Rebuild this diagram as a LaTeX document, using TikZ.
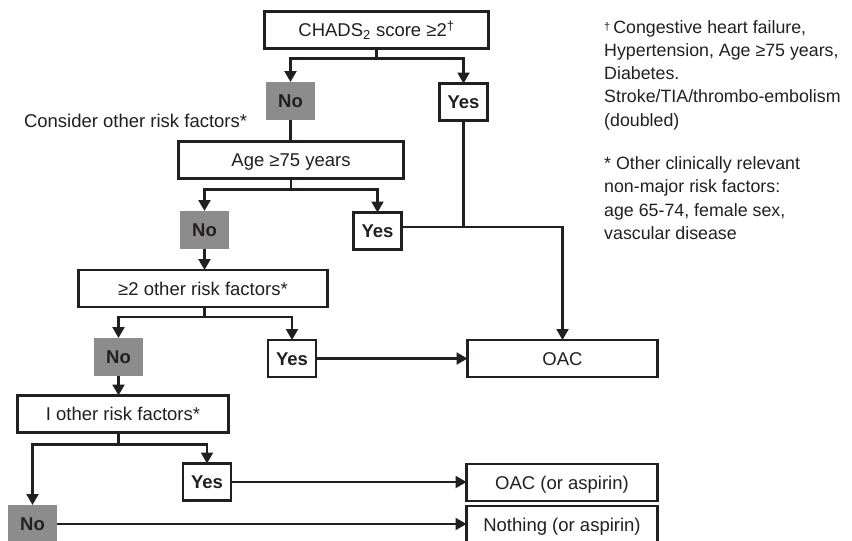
\documentclass[tikz,border=0pt]{standalone}
\usepackage{fontspec}
\setmainfont{Liberation Sans}
\usetikzlibrary{arrows.meta,calc}
\definecolor{ink}{RGB}{35,31,32}
\definecolor{nofill}{RGB}{140,140,140}
\begin{document}
\begin{tikzpicture}[x=1pt,y=-1pt,
  base/.style={inner sep=0pt, outer sep=0pt, text height=13.2pt, text depth=0pt,
    font=\fontsize{18.5}{22}\selectfont, text=ink},
  qbox/.style={base, draw=ink, line width=2.1pt, minimum height=37pt},
  nobox/.style={base, fill=nofill, minimum width=49pt, minimum height=38pt,
    font=\fontsize{18.5}{22}\selectfont\bfseries},
  yesbox/.style={qbox, minimum width=48pt, font=\fontsize{18.5}{22}\selectfont\bfseries},
  conn/.style={draw=ink, line width=2.1pt},
  arr/.style={conn, -{Triangle[length=11pt,width=12pt]}},
  note/.style={inner sep=0pt, anchor=west, align=left,
    font=\fontsize{17.8}{23.3}\selectfont, text=ink}
]
\fill[white] (0,0) rectangle (852,541);
\clip (0,0) rectangle (852,541);

% question boxes
\node[qbox, minimum width=224pt] (chads) at (376.5,30) {CHADS\textsubscript{2} score ≥2\textsuperscript{†}};
\node[qbox, minimum width=225pt] (age) at (291,160) {Age ≥75 years};
\node[qbox, minimum width=249pt] (two) at (203,288.5) {≥2 other risk factors*};
\node[qbox, minimum width=211pt] (ione) at (123,414) {I other risk factors*};

% answer boxes
\node[nobox] (no1) at (290.5,101) {No};
\node[yesbox] (yes1) at (463.5,102) {Yes};
\node[nobox] (no2) at (204.5,230) {No};
\node[yesbox] (yes2) at (377.5,231) {Yes};
\node[nobox] (no3) at (118.5,357) {No};
\node[yesbox] (yes3) at (292,358.5) {Yes};
\node[yesbox] (yes4) at (207,482) {Yes};
\node[nobox] (no4) at (32.5,524) {No};

% outcome boxes
\node[qbox, minimum width=190pt] (oac) at (562.5,358.5) {OAC};
\node[qbox, minimum width=191pt] (oaca) at (562,482.5) {OAC (or aspirin)};
\node[qbox, minimum width=191pt] (nothing) at (562,524.5) {Nothing (or aspirin)};

% side text
\node[base, anchor=west] (consider) at (24,121) {Consider other risk factors*};
\node[note] (n1) at (604,75) {{\fontsize{11}{11}\selectfont\raisebox{3pt}{†}}\,Congestive heart failure,\\Hypertension, Age ≥75 years,\\Diabetes.\\Stroke/TIA/thrombo-embolism\\(doubled)};
\node[note] (n2) at (604,198) {* Other clinically relevant\\non-major risk factors:\\age 65-74, female sex,\\vascular disease};

% connectors
\coordinate (j1) at ($(chads.south)+(0,10)$);
\draw[conn] (chads.south) -- (j1);
\draw[arr] (j1) -| (no1.north);
\draw[arr] (j1) -| (yes1.north);

\draw[conn] (no1.south) -- (no1.south |- age.north);

\coordinate (j2) at ($(age.south)+(0,11)$);
\draw[conn] (age.south) -- (j2);
\draw[arr] (j2) -| (no2.north);
\draw[arr] (j2) -| (yes2.north);

\draw[arr] (no2.south) -- (no2.south |- two.north);

\coordinate (j3) at ($(no2.south |- two.south)+(0,10)$);
\draw[conn] (no2.south |- two.south) -- (j3);
\draw[arr] (j3) -| (no3.north);
\draw[arr] (j3) -| (yes3.north);

\draw[arr] (no3.south) -- (no3.south |- ione.north);

\coordinate (j4) at ($(no3.south |- ione.south)+(0,12)$);
\draw[conn] (no3.south |- ione.south) -- (j4);
\draw[arr] (j4) -| (no4.north);
\draw[arr] (j4) -| (yes4.north);

\coordinate (j5) at ($(yes1.south |- yes2.east)+(0,-4)$);
\draw[conn] (yes1.south) -- (j5);
\draw[arr] ($(yes2.east)+(0,-4)$) -| (oac.north);

\draw[arr] (yes3.east) -- (oac.west);
\draw[arr] (yes4.east) -- (yes4.east -| oaca.west);
\draw[arr] (no4.east) -- (no4.east -| nothing.west);
\end{tikzpicture}
\end{document}
